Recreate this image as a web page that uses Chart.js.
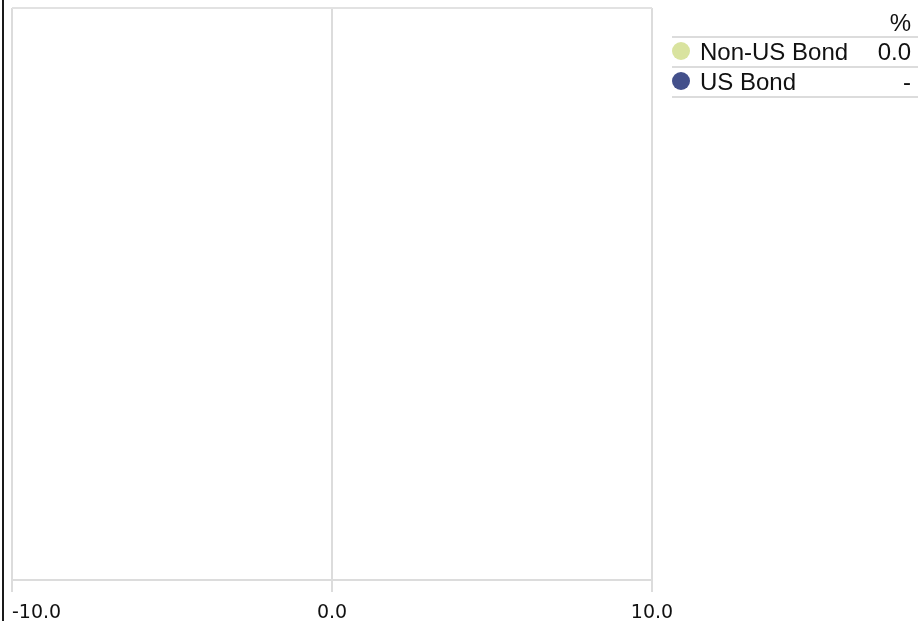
<!DOCTYPE html>
<html>
<head>
<meta charset="utf-8">
<script src="https://cdn.jsdelivr.net/npm/chart.js@4/dist/chart.umd.min.js"></script>
<style>
html,body{margin:0;padding:0;background:#fff;width:918px;height:621px;overflow:hidden;}
#edge{position:absolute;left:2px;top:0;width:2px;height:621px;background:#1a1a1a;}
#wrap{position:absolute;left:0;top:0;width:680px;height:621px;}
#legend{position:absolute;left:672px;top:0;width:246px;font-family:"Liberation Sans",Arial,sans-serif;font-size:24px;color:#111;}
.hdr{position:relative;height:36px;border-bottom:2px solid #dcdcdc;}
.hdr span{position:absolute;right:7px;top:11px;line-height:1;}
.row{position:relative;height:28px;border-bottom:2px solid #dcdcdc;line-height:28px;}
.dot{position:absolute;left:0;top:4px;width:18px;height:18px;border-radius:50%;}
.name{position:absolute;left:28px;top:0;}
.val{position:absolute;right:7px;top:0;}
</style>
</head>
<body>
<div id="edge"></div>
<div id="wrap"><canvas id="c"></canvas></div>
<div id="legend"></div>
<script>
const categories = ['Non-US Bond', 'US Bond'];
const values = [0.0, null];
const colors = ['#d9e39f', '#43508b'];
const xTicks = [-10, 0, 10];
const unitLabel = '%';

// legend table
const lg = document.getElementById('legend');
let html = '<div class="hdr"><span>' + unitLabel + '</span></div>';
categories.forEach((c, i) => {
  const v = values[i] === null ? '-' : values[i].toFixed(1);
  html += '<div class="row"><div class="dot" style="background:' + colors[i] + '"></div><span class="name">' + c + '</span><span class="val">' + v + '</span></div>';
});
lg.innerHTML = html;

const tickLabelPlugin = {
  id: 'tickLabels',
  afterDraw(chart) {
    const ctx = chart.ctx;
    const sx = chart.scales.x;
    const area = chart.chartArea;
    ctx.save();
    // top border
    ctx.strokeStyle = '#e2e2e2';
    ctx.lineWidth = 2;
    ctx.beginPath();
    ctx.moveTo(area.left, area.top);
    ctx.lineTo(area.right, area.top);
    ctx.stroke();
    ctx.font = '19px "DejaVu Sans", Verdana, sans-serif';
    ctx.fillStyle = '#111';
    ctx.textBaseline = 'alphabetic';
    sx.ticks.forEach((t, i) => {
      const px = sx.getPixelForValue(t.value);
      ctx.textAlign = i === 0 ? 'left' : 'center';
      ctx.fillText(t.value.toFixed(1), px, 618);
    });
    ctx.restore();
  }
};

new Chart(document.getElementById('c'), {
  type: 'bar',
  data: {
    labels: categories,
    datasets: [{
      data: values,
      backgroundColor: colors,
      borderWidth: 0,
      barPercentage: 0.6
    }]
  },
  options: {
    indexAxis: 'y',
    responsive: true,
    maintainAspectRatio: false,
    animation: false,
    layout: { padding: { left: 12, right: 28, top: 8, bottom: 0 } },
    plugins: { legend: { display: false }, tooltip: { enabled: false } },
    scales: {
      x: {
        min: xTicks[0],
        max: xTicks[xTicks.length - 1],
        afterBuildTicks(scale) { scale.ticks = xTicks.map(v => ({ value: v })); },
        ticks: { display: false },
        grid: { color: '#dcdcdc', lineWidth: 2, tickLength: 12, drawTicks: true },
        border: { display: true, color: '#dcdcdc', width: 2 },
        afterFit(scale) { scale.height = 41; }
      },
      y: { display: false }
    }
  },
  plugins: [tickLabelPlugin]
});
</script>
</body>
</html>
